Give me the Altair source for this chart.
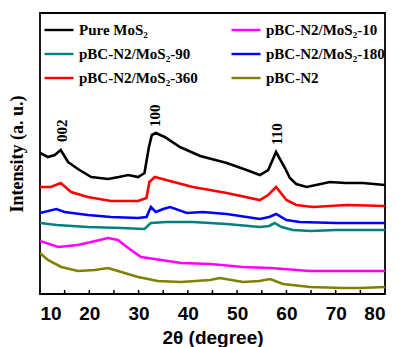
import altair as alt
import pandas as pd

# ---- data (intensity in arbitrary units) ----
series_names = ["Pure MoS₂", "pBC-N2/MoS₂-10", "pBC-N2/MoS₂-90",
                "pBC-N2/MoS₂-180", "pBC-N2/MoS₂-360", "pBC-N2"]
series_colors = ["#000000", "#FF00FF", "#008080", "#0000FF", "#FF0000", "#808000"]

pure_x = [10, 11.6, 13, 14.2, 15.7, 17.7, 20.4, 23.8, 26, 27.9, 29.9, 31.2, 32.1, 32.7, 33.5,
          35.3, 38.4, 42.5, 47.9, 51.9, 54.6, 56.3, 57.9, 59.7, 60.7, 62, 64.1, 66, 68.8, 72, 75.5, 80]
pure_y = [141, 137, 139, 144, 132, 125, 117, 115, 117, 119, 117, 121, 147, 159, 161,
          157, 147, 138, 131, 124, 119, 124, 142, 126, 116, 110, 107, 109, 112, 111, 111, 109]

s360_x = [10, 12.2, 14.2, 16.3, 19.7, 24.4, 29.9, 31.6, 32.2, 33.3, 35.6, 41, 47.9, 54.6, 56.3,
          57.9, 60, 62, 65.4, 72.2, 80]
s360_y = [107, 107, 111, 102, 97, 93, 93, 96, 112, 117, 114, 107, 101, 94, 99,
          107, 94, 89, 87, 89, 88]

s180_x = [10, 13.3, 15, 19.7, 24.4, 29.9, 31.6, 32.5, 33.5, 35, 36.4, 39.8, 43, 47.9, 54.6,
          56.5, 57.9, 60, 62.7, 70, 80]
s180_y = [81, 85, 82, 79, 77, 76, 77, 87, 82, 85, 87, 81, 82, 80, 75,
          77, 80, 74, 72, 71, 71]

s90_x = [10, 13.4, 19.7, 26.5, 31.2, 32.5, 35.6, 41, 47.9, 54.6, 56.5, 57.6, 59, 61.3, 65, 70, 80]
s90_y = [71, 69, 67, 66, 65, 71, 72, 72, 70, 67, 68, 71, 67, 64, 63, 64, 64]

s10_x = [10, 13.7, 17.7, 20.4, 23.8, 25.8, 27.9, 30.5, 34.6, 38.6, 44.6, 51.2, 56.7, 64.8, 70, 80]
s10_y = [53, 47, 49, 52, 56, 54, 46, 37, 34, 31, 30, 27, 26, 23, 23, 23]

pbc_x = [10, 11.6, 14.3, 17.7, 21.1, 23.8, 26.5, 29.9, 33.9, 38.6, 44.5, 46.5, 51.2, 54.5,
         56.7, 59.3, 64.8, 71.5, 75, 80]
pbc_y = [41, 34, 27, 23, 24, 26, 22, 17, 13, 12, 14, 16, 12, 13,
         15, 10, 7, 6, 6, 7]

peak_labels = ["002", "100", "110"]
peak_theta = [14.5, 33.3, 58.1]
peak_label_y = [152, 167, 149]

x_ticks = [10, 15, 20, 25, 30, 35, 40, 45, 50, 55, 60, 65, 70, 75, 80]
x_labels = [10, 20, 30, 40, 50, 60, 70, 80]

# ---- build tables ----
xs = [pure_x, s10_x, s90_x, s180_x, s360_x, pbc_x]
ys = [pure_y, s10_y, s90_y, s180_y, s360_y, pbc_y]
rows = []
for name, sx, sy in zip(series_names, xs, ys):
    for a, b in zip(sx, sy):
        rows.append({"theta": a, "intensity": b, "sample": name})
df = pd.DataFrame(rows)
peaks = pd.DataFrame({"label": peak_labels, "theta": peak_theta, "y": peak_label_y})
ticks = pd.DataFrame({"theta": x_ticks})

xscale = alt.Scale(domain=[10, 80], nice=False, zero=False)
yscale = alt.Scale(domain=[0, 281], nice=False, zero=False)

lines = alt.Chart(df).mark_line(strokeWidth=2.6, clip=True).encode(
    x=alt.X("theta:Q", scale=xscale,
            axis=alt.Axis(title="2θ (degree)", values=x_labels, ticks=False, domain=False,
                          grid=False, labelFont="Liberation Sans", labelFontWeight="bold",
                          labelFontSize=19, labelColor="black", labelPadding=10,
                          titleFont="Liberation Sans", titleFontWeight="bold",
                          titleFontSize=19, titleColor="black", titlePadding=5)),
    y=alt.Y("intensity:Q", scale=yscale,
            axis=alt.Axis(title="Intensity (a. u.)", labels=False, ticks=False, domain=False,
                          grid=False, titleFont="Liberation Serif", titleFontWeight="bold",
                          titleFontSize=18, titleColor="black", titlePadding=14)),
    color=alt.Color("sample:N",
                    scale=alt.Scale(domain=series_names, range=series_colors),
                    sort=series_names,
                    legend=alt.Legend(title=None, orient="none", legendX=3, legendY=1,
                                      direction="horizontal", columns=2,
                                      symbolType="stroke", symbolSize=841,
                                      symbolStrokeWidth=2.4, labelFont="Liberation Serif",
                                      labelFontWeight="bold", labelFontSize=15,
                                      labelColor="black", labelOffset=4, rowPadding=-5,
                                      columnPadding=28, padding=0)),
    detail="sample:N",
)

tick_marks = alt.Chart(ticks).mark_rule(color="black", strokeWidth=1.5).encode(
    x=alt.X("theta:Q", scale=xscale),
    y=alt.value(281), y2=alt.value(277),
)

peak_text = alt.Chart(peaks).mark_text(angle=270, align="left", baseline="middle",
                                       font="Liberation Serif", fontWeight="bold",
                                       fontSize=15, color="black").encode(
    x=alt.X("theta:Q", scale=xscale),
    y=alt.Y("y:Q", scale=yscale),
    text="label:N",
)

chart = alt.layer(lines, tick_marks, peak_text).properties(
    width=345, height=281, autosize="none",
    padding={"left": 40, "top": 13, "right": 14, "bottom": 53},
    background="white",
).configure_view(stroke="black", strokeWidth=1.8)

chart.save("out.html", embed_options={"renderer": "svg", "actions": False})
